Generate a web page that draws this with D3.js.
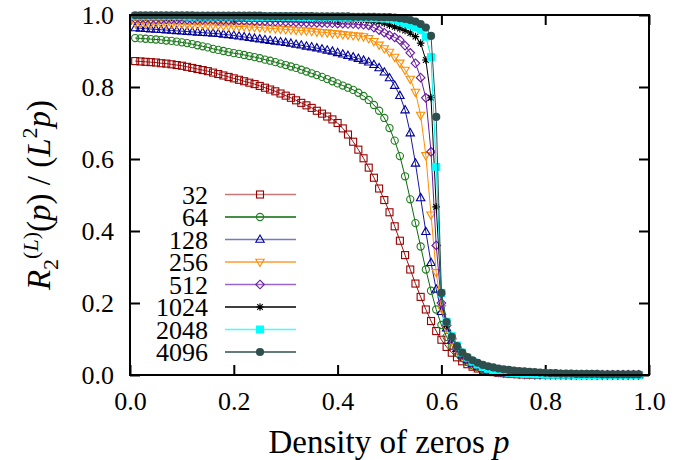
<!DOCTYPE html>
<html><head><meta charset="utf-8">
<script src="https://cdn.jsdelivr.net/npm/d3@7/dist/d3.min.js"></script>
<style>
html,body{margin:0;padding:0;background:#fff;}
svg{display:block;}
text{font-family:"Liberation Serif","Times New Roman",serif;fill:#000;}
</style></head>
<body>
<svg id="chart" width="682" height="460"></svg>
<script>
// Density of zeros p (x grid)
const pValues = [
0.01,0.02,0.03,0.04,0.05,0.06,0.07,0.08,0.09,0.10,
0.11,0.12,0.13,0.14,0.15,0.16,0.17,0.18,0.19,0.20,
0.21,0.22,0.23,0.24,0.25,0.26,0.27,0.28,0.29,0.30,
0.31,0.32,0.33,0.34,0.35,0.36,0.37,0.38,0.39,0.40,
0.41,0.42,0.43,0.44,0.45,0.46,0.47,0.48,0.49,0.50,
0.51,0.52,0.53,0.54,0.55,0.56,0.57,0.58,0.59,0.60,
0.61,0.62,0.63,0.64,0.65,0.66,0.67,0.68,0.69,0.70,
0.71,0.72,0.73,0.74,0.75,0.76,0.77,0.78,0.79,0.80,
0.81,0.82,0.83,0.84,0.85,0.86,0.87,0.88,0.89,0.90,
0.91,0.92,0.93,0.94,0.95,0.96,0.97,0.98];

const y32 = [
0.872,0.871,0.870,0.869,0.868,0.866,0.865,0.863,0.861,0.859,
0.856,0.853,0.850,0.847,0.844,0.840,0.836,0.832,0.828,0.824,
0.820,0.816,0.812,0.808,0.803,0.798,0.793,0.788,0.782,0.776,
0.770,0.763,0.756,0.749,0.742,0.734,0.726,0.718,0.710,0.700,
0.685,0.668,0.648,0.626,0.602,0.576,0.548,0.518,0.486,0.452,
0.413,0.373,0.333,0.293,0.254,0.217,0.182,0.150,0.122,0.098,
0.078,0.062,0.049,0.038,0.030,0.023,0.018,0.014,0.011,0.008,
0.006,0.005,0.004,0.003,0.002,0.002,0.001,0.001,0.001,0.001,
0,0,0,0,0,0,0,0,0,0,
0,0,0,0,0,0,0,0];

const y64 = [
0.936,0.935,0.934,0.933,0.932,0.931,0.929,0.928,0.926,0.924,
0.922,0.919,0.916,0.913,0.910,0.906,0.903,0.900,0.897,0.894,
0.892,0.889,0.886,0.883,0.880,0.876,0.873,0.869,0.865,0.861,
0.857,0.853,0.848,0.843,0.838,0.833,0.828,0.822,0.816,0.810,
0.804,0.798,0.792,0.784,0.775,0.764,0.750,0.734,0.714,0.686,
0.651,0.608,0.552,0.488,0.422,0.357,0.293,0.234,0.182,0.139,
0.106,0.081,0.062,0.047,0.036,0.027,0.021,0.016,0.012,0.009,
0.007,0.005,0.004,0.003,0.002,0.002,0.001,0.001,0.001,0.001,
0.001,0,0,0,0,0,0,0,0,0,
0,0,0,0,0,0,0,0];

const y128 = [
0.964,0.963,0.962,0.961,0.960,0.959,0.958,0.957,0.956,0.955,
0.954,0.953,0.952,0.951,0.950,0.949,0.948,0.946,0.945,0.943,
0.941,0.939,0.937,0.935,0.933,0.931,0.929,0.927,0.925,0.923,
0.921,0.918,0.916,0.913,0.911,0.908,0.905,0.902,0.899,0.895,
0.891,0.887,0.883,0.879,0.874,0.869,0.862,0.853,0.841,0.825,
0.804,0.776,0.736,0.672,0.588,0.492,0.398,0.312,0.238,0.176,
0.130,0.097,0.073,0.055,0.042,0.032,0.024,0.018,0.014,0.010,
0.008,0.006,0.004,0.003,0.003,0.002,0.002,0.001,0.001,0.001,
0.001,0.001,0,0,0,0,0,0,0,0,
0,0,0,0,0,0,0,0];

const y256 = [
0.978,0.978,0.977,0.977,0.977,0.976,0.976,0.975,0.975,0.975,
0.974,0.974,0.973,0.973,0.972,0.972,0.971,0.970,0.970,0.969,
0.968,0.968,0.967,0.966,0.965,0.964,0.963,0.962,0.961,0.960,
0.959,0.958,0.957,0.956,0.955,0.953,0.952,0.951,0.949,0.948,
0.946,0.945,0.943,0.942,0.940,0.935,0.927,0.917,0.907,0.897,
0.883,0.867,0.847,0.822,0.786,0.722,0.610,0.445,0.285,0.185,
0.130,0.095,0.071,0.054,0.041,0.031,0.024,0.018,0.014,0.010,
0.008,0.006,0.005,0.004,0.003,0.002,0.002,0.001,0.001,0.001,
0.001,0.001,0,0,0,0,0,0,0,0,
0,0,0,0,0,0,0,0];

const y512 = [
0.989,0.989,0.989,0.988,0.988,0.988,0.988,0.988,0.987,0.987,
0.987,0.987,0.986,0.986,0.986,0.986,0.985,0.985,0.985,0.985,
0.984,0.984,0.984,0.983,0.983,0.983,0.982,0.982,0.982,0.981,
0.981,0.980,0.980,0.979,0.979,0.978,0.978,0.977,0.977,0.976,
0.976,0.975,0.975,0.974,0.973,0.971,0.965,0.958,0.951,0.944,
0.938,0.930,0.915,0.895,0.866,0.826,0.770,0.620,0.360,0.200,
0.138,0.100,0.075,0.056,0.043,0.033,0.025,0.019,0.014,0.011,
0.008,0.006,0.005,0.004,0.003,0.002,0.002,0.001,0.001,0.001,
0.001,0.001,0.001,0,0,0,0,0,0,0,
0,0,0,0,0,0,0,0];

const y1024 = [
0.995,0.995,0.995,0.995,0.995,0.995,0.994,0.994,0.994,0.994,
0.994,0.994,0.994,0.993,0.993,0.993,0.993,0.993,0.993,0.993,
0.992,0.992,0.992,0.992,0.992,0.992,0.991,0.991,0.991,0.991,
0.991,0.991,0.990,0.990,0.990,0.990,0.990,0.989,0.989,0.989,
0.989,0.989,0.988,0.988,0.988,0.986,0.984,0.981,0.977,0.972,
0.967,0.962,0.957,0.950,0.940,0.922,0.875,0.770,0.467,0.225,
0.140,0.102,0.077,0.058,0.045,0.035,0.027,0.020,0.015,0.012,
0.009,0.007,0.005,0.004,0.003,0.003,0.002,0.002,0.001,0.001,
0.001,0.001,0.001,0.001,0,0,0,0,0,0,
0,0,0,0,0,0,0,0];

const y2048 = [
0.997,0.997,0.997,0.997,0.997,0.997,0.997,0.997,0.997,0.997,
0.996,0.996,0.996,0.996,0.996,0.996,0.996,0.996,0.996,0.996,
0.996,0.996,0.995,0.995,0.995,0.995,0.995,0.995,0.995,0.995,
0.995,0.995,0.994,0.994,0.994,0.994,0.994,0.994,0.994,0.993,
0.993,0.993,0.993,0.992,0.992,0.992,0.991,0.991,0.990,0.990,
0.987,0.983,0.978,0.972,0.966,0.958,0.940,0.883,0.578,0.228,
0.148,0.108,0.082,0.062,0.048,0.037,0.029,0.022,0.017,0.013,
0.010,0.008,0.006,0.005,0.004,0.003,0.003,0.002,0.002,0.001,
0.001,0.001,0.001,0.001,0.001,0,0,0,0,0,
0,0,0,0,0,0,0,0];

const y4096 = [
0.999,0.999,0.999,0.999,0.999,0.999,0.999,0.999,0.999,0.999,
0.999,0.999,0.998,0.998,0.998,0.998,0.998,0.998,0.998,0.998,
0.998,0.998,0.998,0.998,0.998,0.997,0.997,0.997,0.997,0.997,
0.997,0.997,0.997,0.997,0.997,0.996,0.996,0.996,0.996,0.996,
0.996,0.996,0.995,0.995,0.995,0.995,0.995,0.994,0.994,0.994,
0.993,0.991,0.989,0.986,0.982,0.975,0.965,0.942,0.717,0.228,
0.147,0.106,0.080,0.062,0.050,0.041,0.034,0.028,0.024,0.021,
0.018,0.016,0.014,0.012,0.011,0.010,0.009,0.008,0.007,0.006,
0.005,0.005,0.004,0.004,0.004,0.003,0.003,0.003,0.003,0.003,
0.002,0.002,0.002,0.002,0.002,0.002,0.002,0.002];

const seriesLabels = ["32","64","128","256","512","1024","2048","4096"];
const seriesValues = [y32,y64,y128,y256,y512,y1024,y2048,y4096];
const xTickValues = [0,0.2,0.4,0.6,0.8,1.0];
const yTickValues = [0,0.2,0.4,0.6,0.8,1.0];

// styles
const lineColors   = ["#a01010","#0a6a0a","#1818a0","#ff8c00","#6a1ba0","#000000","#00f0f0","#2f4f4f"];
const legendLineColors = ["#c87878","#0a6a0a","#7878c8","#ff9a30","#9a66cc","#000000","#40ffff","#2f4f4f"];
const markerColors = ["#990000","#1e7d1e","#00009a","#ff8c00","#6a1ba0","#000000","#00ffff","#2f4f4f"];
const markerTypes  = ["square","circle","triUp","triDown","diamond","star","fsquare","fcircle"];

const svg = d3.select("#chart");
const x = d3.scaleLinear().domain([0,1]).range([130,649]);
const y = d3.scaleLinear().domain([0,1]).range([375,15]);

function drawMarker(g, type, color) {
  let s;
  switch(type){
    case "square":
      s = g.append("rect").attr("x",-3.5).attr("y",-3.5).attr("width",7).attr("height",7)
        .attr("fill","none").attr("stroke",color).attr("stroke-width",1.1); break;
    case "circle":
      s = g.append("circle").attr("r",3.6).attr("fill","none").attr("stroke",color).attr("stroke-width",1.1); break;
    case "triUp":
      s = g.append("path").attr("d","M0,-4.5L4.2,2.8L-4.2,2.8Z").attr("fill","none").attr("stroke",color).attr("stroke-width",1.1); break;
    case "triDown":
      s = g.append("path").attr("d","M0,4.5L4.2,-2.8L-4.2,-2.8Z").attr("fill","none").attr("stroke",color).attr("stroke-width",1.1); break;
    case "diamond":
      s = g.append("path").attr("d","M0,-4.3L4.3,0L0,4.3L-4.3,0Z").attr("fill","none").attr("stroke",color).attr("stroke-width",1.1); break;
    case "star":
      s = g.append("path").attr("d","M-3.8,0L3.8,0M0,-3.8L0,3.8M-2.8,-2.8L2.8,2.8M-2.8,2.8L2.8,-2.8").attr("fill","none").attr("stroke",color).attr("stroke-width",1.1); break;
    case "fsquare":
      s = g.append("rect").attr("x",-4).attr("y",-4).attr("width",8).attr("height",8).attr("fill",color); break;
    case "fcircle":
      s = g.append("circle").attr("r",4.1).attr("fill",color); break;
  }
  return s;
}

// axes (ticks inward on all four sides)
const fmt = d3.format(".1f");
const gx = svg.append("g").attr("transform","translate(0,375)")
  .call(d3.axisBottom(x).tickValues(xTickValues).tickFormat(fmt).tickSize(-10).tickPadding(16.5));
const gy = svg.append("g").attr("transform","translate(130,0)")
  .call(d3.axisLeft(y).tickValues(yTickValues).tickFormat(fmt).tickSize(-10).tickPadding(16));
const gxt = svg.append("g").attr("transform","translate(0,15)")
  .call(d3.axisTop(x).tickValues(xTickValues).tickFormat("").tickSize(-10));
const gyr = svg.append("g").attr("transform","translate(649,0)")
  .call(d3.axisRight(y).tickValues(yTickValues).tickFormat("").tickSize(-10));
[gx,gy,gxt,gyr].forEach(g=>{
  g.select(".domain").remove();
  g.selectAll(".tick line").attr("stroke","#000").attr("stroke-width",2);
  g.selectAll("text").style("font-family","'Liberation Serif',serif").style("font-size","26px").attr("fill","#000");
});

// series
const line = d3.line().x((d,i)=>x(pValues[i])).y(d=>y(d));
seriesValues.forEach((vals,k)=>{
  const g = svg.append("g");
  g.append("path").datum(vals).attr("d",line).attr("fill","none")
    .attr("stroke",lineColors[k]).attr("stroke-width",1);
  vals.forEach((v,i)=>{
    const m = g.append("g").attr("transform",`translate(${x(pValues[i])},${y(v)})`);
    drawMarker(m, markerTypes[k], markerColors[k]);
  });
});

// frame
svg.append("rect").attr("x",130).attr("y",15).attr("width",519).attr("height",360)
  .attr("fill","none").attr("stroke","#000").attr("stroke-width",2);

// legend
const legend = svg.append("g");
seriesLabels.forEach((lab,k)=>{
  const cy = 194.5 + k*22.5;
  legend.append("text").attr("x",208).attr("y",cy).attr("dy","0.35em")
    .attr("text-anchor","end").style("font-size","26px").text(lab);
  legend.append("line").attr("x1",225).attr("x2",296).attr("y1",cy).attr("y2",cy)
    .attr("stroke",legendLineColors[k]).attr("stroke-width",1.5);
  const m = legend.append("g").attr("transform",`translate(260,${cy})`);
  drawMarker(m, markerTypes[k], markerColors[k]);
});

// x title
const xt = svg.append("text").attr("x",389).attr("y",453).attr("text-anchor","middle").style("font-size","33px");
xt.append("tspan").text("Density of zeros ");
xt.append("tspan").style("font-style","italic").text("p");

// y title
const yt = svg.append("text").attr("transform","translate(50,195) rotate(-90)").attr("text-anchor","middle").style("font-size","33px");
yt.append("tspan").style("font-style","italic").text("R");
yt.append("tspan").style("font-size","22px").attr("dy",8).text("2");
yt.append("tspan").style("font-size","22px").attr("dy",-20).text("(");
yt.append("tspan").style("font-size","22px").style("font-style","italic").text("L");
yt.append("tspan").style("font-size","22px").text(")");
yt.append("tspan").attr("dy",12).text("(");
yt.append("tspan").style("font-style","italic").text("p");
yt.append("tspan").text(") / (");
yt.append("tspan").style("font-style","italic").text("L");
yt.append("tspan").style("font-size","22px").attr("dy",-13).text("2");
yt.append("tspan").style("font-style","italic").attr("dy",13).text("p");
yt.append("tspan").text(")");
</script>
</body></html>
